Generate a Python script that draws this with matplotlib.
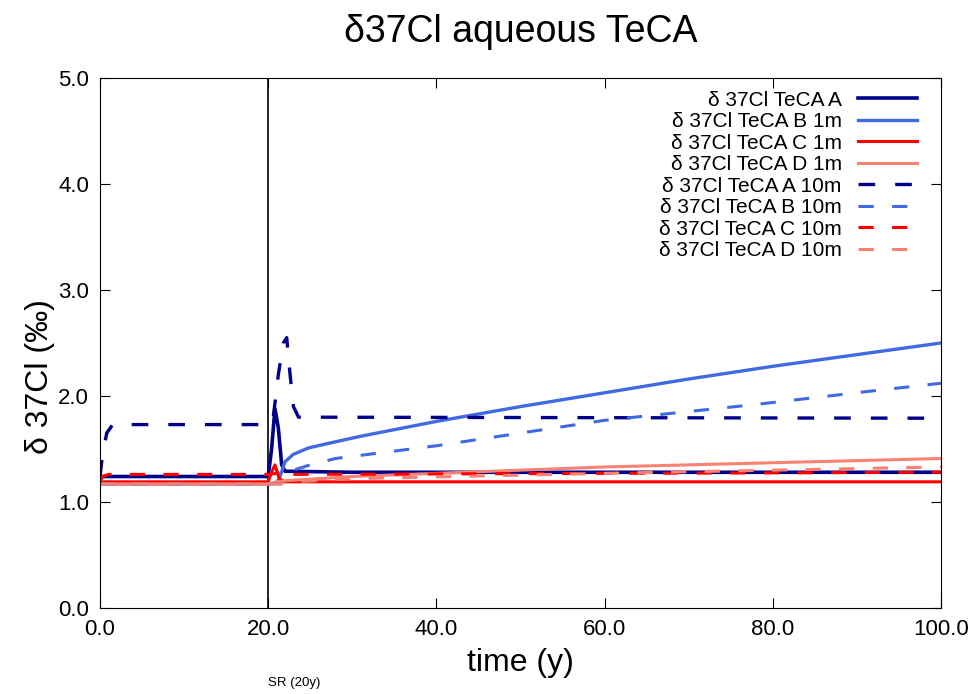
import matplotlib
matplotlib.use("Agg")
import matplotlib.pyplot as plt
from matplotlib.ticker import FormatStrFormatter

plt.rcParams['font.family'] = ['Liberation Sans', 'DejaVu Sans']

# series (time in years, delta 37Cl in permil)
t_a1 = [0, 20, 20.4, 20.8, 21.2, 21.6, 22, 30, 100]
y_a1 = [1.24, 1.24, 1.5, 1.88, 1.7, 1.35, 1.29, 1.28, 1.28]

t_b1 = [0, 20, 21, 21.4, 22, 23, 24.8, 28.7, 31, 40, 50, 60, 70, 80, 90, 100]
y_b1 = [1.17, 1.17, 1.18, 1.24, 1.38, 1.45, 1.51, 1.58, 1.62, 1.76, 1.90, 2.03, 2.16, 2.28, 2.39, 2.50]

t_c1 = [0, 20, 20.4, 20.8, 21.3, 22, 100]
y_c1 = [1.19, 1.19, 1.28, 1.35, 1.22, 1.19, 1.19]

t_d1 = [0, 20, 21, 22, 30, 60, 100]
y_d1 = [1.17, 1.17, 1.19, 1.20, 1.24, 1.33, 1.41]

t_a10 = [0, 0.3, 0.8, 1.5, 20, 20.6, 21.2, 21.8, 22.2, 22.6, 23.0, 23.6, 100]
y_a10 = [1.24, 1.45, 1.65, 1.73, 1.73, 1.8, 2.2, 2.5, 2.55, 2.2, 1.9, 1.80, 1.79]

t_b10 = [0, 21.5, 22, 22.5, 23, 25, 28, 40, 50, 60, 78, 91, 100]
y_b10 = [1.17, 1.17, 1.2, 1.27, 1.30, 1.35, 1.41, 1.53, 1.65, 1.77, 1.92, 2.04, 2.12]

t_c10 = [0, 0.3, 1, 20, 21, 21.7, 22.5, 23.5, 100]
y_c10 = [1.19, 1.24, 1.26, 1.26, 1.27, 1.32, 1.26, 1.26, 1.28]

t_d10 = [0, 21.5, 23, 30, 60, 100]
y_d10 = [1.17, 1.17, 1.19, 1.22, 1.27, 1.33]

sr_time = 20

fig = plt.figure(figsize=(9.73, 6.94), dpi=100)
ax = fig.add_axes([0.1028, 0.124, 0.8643, 0.7636])

ax.axvline(sr_time, color='black', linewidth=1.2)

ax.plot(t_a1, y_a1, color='#00008b', linewidth=2.6, label='δ 37Cl TeCA A')
ax.plot(t_b1, y_b1, color='#4169e1', linewidth=2.4, label='δ 37Cl TeCA B 1m')
ax.plot(t_c1, y_c1, color='#ff0000', linewidth=2.2, label='δ 37Cl TeCA C 1m')
ax.plot(t_d1, y_d1, color='#fa8072', linewidth=2.2, label='δ 37Cl TeCA D 1m')

ax.plot(t_a10, y_a10, color='#00008b', linewidth=2.4, dashes=(5, 6), label='δ 37Cl TeCA A 10m')
ax.plot(t_b10, y_b10, color='#4169e1', linewidth=2.2, dashes=(5, 6), label='δ 37Cl TeCA B 10m')
ax.plot(t_c10, y_c10, color='#ff0000', linewidth=2.2, dashes=(5, 6), label='δ 37Cl TeCA C 10m')
ax.plot(t_d10, y_d10, color='#fa8072', linewidth=2.2, dashes=(5, 6), label='δ 37Cl TeCA D 10m')

ax.set_xlim(0, 100)
ax.set_ylim(0, 5)
ax.set_xticks([0, 20, 40, 60, 80, 100])
ax.set_yticks([0, 1, 2, 3, 4, 5])
ax.xaxis.set_major_formatter(FormatStrFormatter('%.1f'))
ax.yaxis.set_major_formatter(FormatStrFormatter('%.1f'))
ax.tick_params(direction='in', top=True, right=True, labelsize=16, length=7, pad=8)

ax.set_xlabel('time (y)', fontsize=23, labelpad=6)
ax.set_ylabel('δ 37Cl (‰)', fontsize=23)
ax.yaxis.set_label_coords(-0.054, 0.436)
ax.set_title('δ37Cl aqueous TeCA', fontsize=27, pad=26)

ax.text(sr_time, -0.142, 'SR (20y)', transform=ax.get_xaxis_transform(),
        ha='left', va='center', fontsize=9.5)

ax.legend(loc='upper right', bbox_to_anchor=(0.986, 1.0), frameon=False,
          markerfirst=False, fontsize=15, labelspacing=0.12, handlelength=2.8,
          borderaxespad=0.2, handletextpad=0.8)

fig.savefig('out.png', dpi=100)
